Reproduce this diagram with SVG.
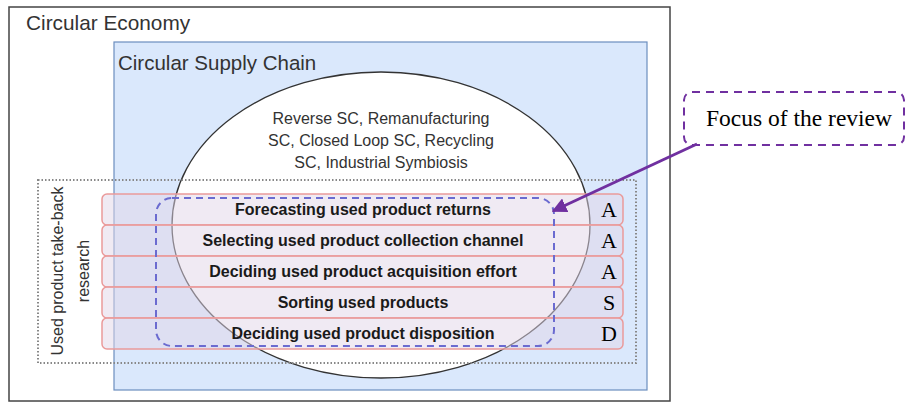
<svg xmlns="http://www.w3.org/2000/svg" width="907" height="404" viewBox="0 0 907 404">
<style>
.sans{font-family:"Liberation Sans",Arial,sans-serif;fill:#333333}
.serif{font-family:"Liberation Serif","Times New Roman",serif;fill:#000000}
.row{fill:#e1d5e7;fill-opacity:0.5;stroke:#ea9a9a;stroke-width:1.5}
.rowt{font-family:"Liberation Sans",Arial,sans-serif;font-size:16px;font-weight:bold;fill:#1a1a1a;text-anchor:middle}
.let{font-family:"Liberation Serif","Times New Roman",serif;font-size:22px;fill:#000000;text-anchor:middle}
</style>
<defs>
<marker id="ah" viewBox="0 0 10 10" refX="9" refY="5" markerWidth="5" markerHeight="5" orient="auto" markerUnits="strokeWidth">
<path d="M0,0 L10,5 L0,10 z" fill="#7030a0"/>
</marker>
</defs>
<rect width="907" height="404" fill="#ffffff"/>
<g id="circular-economy">
<rect x="9" y="7" width="661" height="394" fill="#ffffff" stroke="#444444" stroke-width="1.5"/>
<text class="sans" x="26" y="30" font-size="20.8">Circular Economy</text>
</g>
<g id="circular-supply-chain">
<rect x="114" y="42" width="533" height="348" fill="#dae8fc" stroke="#6c8ebf" stroke-width="1.2"/>
<text class="sans" x="118" y="70" font-size="20.5">Circular Supply Chain</text>
</g>
<g id="sc-ellipse">
<ellipse cx="381" cy="225" rx="209" ry="153" fill="#ffffff" stroke="#333333" stroke-width="1.3"/>
<text class="sans" x="381" y="124" font-size="16" text-anchor="middle">Reverse SC, Remanufacturing</text>
<text class="sans" x="381" y="146" font-size="16" text-anchor="middle">SC, Closed Loop SC, Recycling</text>
<text class="sans" x="381" y="168" font-size="16" text-anchor="middle">SC, Industrial Symbiosis</text>
</g>
<g id="take-back-research">
<rect x="38" y="180" width="598" height="183" fill="none" stroke="#888888" stroke-width="2" stroke-dasharray="1.5 2"/>
<text class="sans" font-size="16" text-anchor="middle" transform="translate(63,271) rotate(-90)">Used product take-back</text>
<text class="sans" font-size="16" text-anchor="middle" transform="translate(89,271) rotate(-90)">research</text>
</g>
<g id="row-forecasting">
<rect class="row" x="102" y="194" width="521" height="31" rx="5"/>
<text class="rowt" x="363" y="215">Forecasting used product returns</text>
<text class="let" x="609" y="217">A</text>
</g>
<g id="row-selecting">
<rect class="row" x="102" y="225" width="521" height="31" rx="5"/>
<text class="rowt" x="363" y="246">Selecting used product collection channel</text>
<text class="let" x="609" y="248">A</text>
</g>
<g id="row-acquisition">
<rect class="row" x="102" y="256" width="521" height="31" rx="5"/>
<text class="rowt" x="363" y="277">Deciding used product acquisition effort</text>
<text class="let" x="609" y="279">A</text>
</g>
<g id="row-sorting">
<rect class="row" x="102" y="287" width="521" height="31" rx="5"/>
<text class="rowt" x="363" y="308">Sorting used products</text>
<text class="let" x="609" y="310">S</text>
</g>
<g id="row-disposition">
<rect class="row" x="102" y="318" width="521" height="31" rx="5"/>
<text class="rowt" x="363" y="339">Deciding used product disposition</text>
<text class="let" x="609" y="341">D</text>
</g>
<g id="focus-area">
<rect x="156" y="198" width="398" height="148" rx="16" fill="none" stroke="#6b6bd0" stroke-width="2" stroke-dasharray="7 5"/>
</g>
<g id="focus-callout">
<rect x="684" y="92" width="220" height="53" rx="8" fill="#ffffff" stroke="#7030a0" stroke-width="2" stroke-dasharray="8 6"/>
<text class="serif" x="706" y="126" font-size="23.5">Focus of the review</text>
</g>
<g id="connectors">
<line x1="697" y1="144" x2="553" y2="211" stroke="#7030a0" stroke-width="3" marker-end="url(#ah)"/>
</g>
</svg>
